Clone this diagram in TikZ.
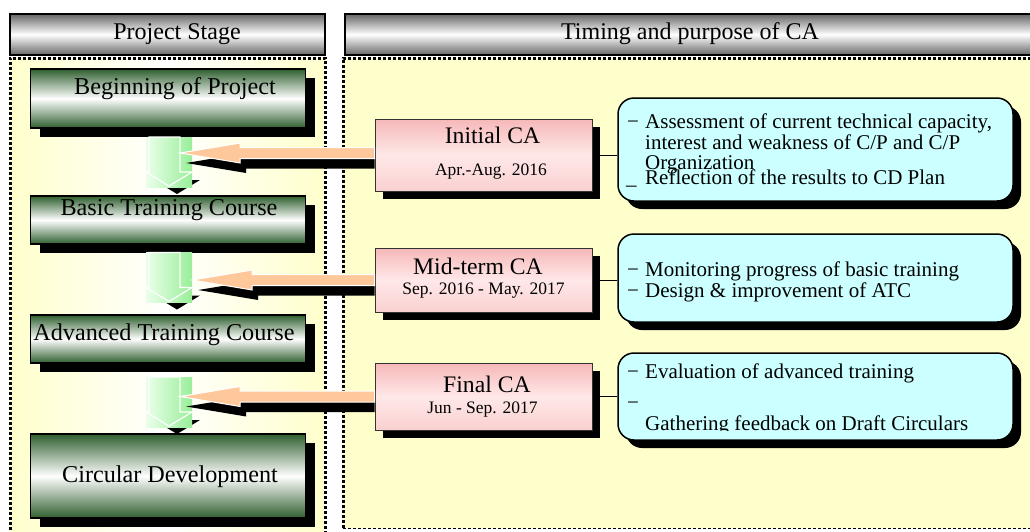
\documentclass[tikz,border=0pt]{standalone}
\usepackage{fontspec}
\setmainfont{Liberation Serif}
\usetikzlibrary{calc,shadows}
\definecolor{bgyel}{HTML}{FFFFCC}
\definecolor{dkgreen}{HTML}{2F5F2F}
\definecolor{pinktop}{HTML}{F6B8B8}
\definecolor{pinkmid}{HTML}{FFE8E8}
\definecolor{pinkbot}{HTML}{FAD0D0}
\definecolor{cyanbox}{HTML}{CCFFFF}
\definecolor{orangef}{HTML}{FFC89B}
\definecolor{gleft}{HTML}{EAFFEA}
\definecolor{gright}{HTML}{99EE99}
\newcommand\fs[1]{\fontsize{#1}{#1}\selectfont}
\newcommand\garrow[3]{%
  \fill[black,shift={(#2+8,#3+8)}] (-20,-25) -- (11,-25) -- (11,10) -- (23,10) -- (0,24) -- (-23,10) -- (-20,10) -- cycle;
  \node[gsq] (#1) at (#2,#3) {};
  \draw[warr,shift={(#2,#3)}] (-20,-25) -- (11,-25) -- (11,10) -- (23,10) -- (0,24) -- (-23,10) -- (-20,10) -- cycle;
}
\newcommand\oarrow[2]{%
  \fill[black] let \p1=(#1),\p2=(#2) in
    ({\x2+6pt},{\y1-10pt}) -- ({\x2+66pt},{\y1}) -- ({\x2+66pt},{\y1-4.5pt}) -- (\x1,{\y1-4.5pt}) -- (\x1,{\y1-15.5pt}) -- ({\x2+66pt},{\y1-15.5pt}) -- ({\x2+66pt},{\y1-20pt}) -- cycle;
  \draw[oarr] let \p1=(#1),\p2=(#2) in
    (\x2,\y1) -- ({\x2+60pt},{\y1+10pt}) -- ({\x2+60pt},{\y1+5.5pt}) -- (\x1,{\y1+5.5pt}) -- (\x1,{\y1-5.5pt}) -- ({\x2+60pt},{\y1-5.5pt}) -- ({\x2+60pt},{\y1-10pt}) -- cycle;
}
\begin{document}
\begin{tikzpicture}[x=1pt,y=-1pt,
  hdr/.style={draw=black,line width=1.2pt,top color=black!60,bottom color=black!60,middle color=white,minimum height=41pt,inner sep=0pt},
  gbox/.style={draw=black,line width=1.5pt,top color=dkgreen,bottom color=dkgreen,middle color=white,minimum width=275pt,inner sep=0pt,general shadow={fill=black,shadow xshift=9pt,shadow yshift=-9pt}},
  pbox/.style={draw=black!80,line width=1pt,top color=pinktop,bottom color=pinkbot,middle color=pinkmid,minimum width=217pt,inner sep=0pt,general shadow={fill=black,shadow xshift=8pt,shadow yshift=-8pt}},
  cbox/.style={draw=black,line width=1.5pt,fill=cyanbox,rounded corners=16pt,minimum width=395pt,inner sep=0pt,general shadow={fill=black,shadow xshift=8pt,shadow yshift=-8pt}},
  gsq/.style={left color=gleft,right color=gright,minimum width=46pt,minimum height=50pt,inner sep=0pt},
  htxt/.style={inner sep=0pt,font=\fs{24}},
  gtxt/.style={inner sep=0pt,font=\fs{24.2}},
  ptit/.style={inner sep=0pt,font=\fs{23.7}},
  pdate/.style={inner sep=0pt,font=\fs{17.5}},
  ctxt/.style={inner sep=0pt,font=\fs{21},anchor=base west},
  conn/.style={draw=black,line width=0.8pt},
  oarr/.style={fill=orangef,draw=white,line width=1pt},
  warr/.style={draw=white,line width=1.2pt},
]
\useasboundingbox (0,0) rectangle (1030,531);
\clip (0,0) rectangle (1030,531);
\fill[white] (0,0) rectangle (1030,531);
% panels
\path[left color=bgyel,right color=bgyel,middle color=white] (10,58) rectangle (325,540);
\fill[bgyel] (343,58) rectangle (1040,528);
\draw[line width=3pt,dash pattern=on 3pt off 2pt] (10,540) -- (10,58) -- (325,58) -- (325,540);
\draw[line width=3pt,dash pattern=on 3pt off 2pt] (343,528) -- (343,58) -- (1040,58);
\draw[line width=1pt,dash pattern=on 3pt off 2pt] (343,528) -- (1040,528);
% headers
\node[hdr,minimum width=315pt] (hl) at (167.5,34.5) {};
\node[hdr,minimum width=700pt] (hr) at (695,34.5) {};
\node[htxt] (thl) at (177,34) {Project Stage};
\node[htxt] (thr) at (690,34) {Timing and purpose of CA};
% green stage boxes
\node[gbox,minimum height=59pt] (b1) at (168,98.5) {};
\node[gbox,minimum height=48pt] (b2) at (168,220) {};
\node[gbox,minimum height=48pt] (b3) at (168,339) {};
\node[gbox,minimum height=84pt] (b4) at (168,476) {};
\node[gtxt] (tb1) at (175,89) {Beginning of Project};
\node[gtxt] (tb2) at (169,210) {Basic Training Course};
\node[gtxt] (tb3) at (164,335) {Advanced Training Course};
\node[gtxt] (tb4) at (170,477) {Circular Development};
% green down arrows
\garrow{g1}{169}{162}
\garrow{g2}{169}{277.5}
\garrow{g3}{169}{402}
% pink CA boxes
\node[pbox,minimum height=72pt] (p1) at (483.5,155) {};
\node[pbox,minimum height=64pt] (p2) at (483.5,280) {};
\node[pbox,minimum height=67pt] (p3) at (483.5,396.5) {};
\node[ptit] (tp1a) at (492.5,135) {Initial CA};
\node[pdate] (tp1b) at (491,172) {Apr.-Aug. 2016};
\node[ptit] (tp2a) at (478,266) {Mid-term CA};
\node[pdate] (tp2b) at (483.5,291) {Sep. 2016 - May. 2017};
\node[ptit] (tp3a) at (487,384) {Final CA};
\node[pdate] (tp3b) at (482.5,410) {Jun - Sep. 2017};
% orange arrows
\oarrow{$(p1.west)+(0,-2)$}{$(g1.east)+(-12,0)$}
\oarrow{p2.west}{g2.east}
\oarrow{p3.west}{$(g3.east)+(-12,0)$}
% cyan purpose boxes
\node[cbox,minimum height=103pt] (c1) at (815.5,149.5) {};
\node[cbox,minimum height=88pt] (c2) at (815.5,278) {};
\node[cbox,minimum height=87pt] (c3) at (815.5,396.5) {};
\draw[conn] (p1.east) -- (p1.east -| c1.west);
\draw[conn] (p2.east) -- (p2.east -| c2.west);
\draw[conn] (p3.east) -- (p3.east -| c3.west);
% cyan texts
\node[ctxt] (d11) at (627,128) {−};
\node[ctxt] (t11) at (645,128) {Assessment of current technical capacity,};
\node[ctxt] (t12) at (645,149) {interest and weakness of C/P and C/P};
\node[ctxt] (t13) at (645,169) {Organization};
\node[ctxt] (d14) at (626,184) {\_};
\node[ctxt] (t14) at (645,184) {Reflection of the results to CD Plan};
\node[ctxt] (d21) at (627,276) {−};
\node[ctxt] (t21) at (645,276) {Monitoring progress of basic training};
\node[ctxt] (d22) at (627,297) {−};
\node[ctxt] (t22) at (645,297) {Design \& improvement of ATC};
\node[ctxt] (d31) at (627,378) {−};
\node[ctxt] (t31) at (645,378) {Evaluation of advanced training};
\node[ctxt] (d32) at (627,409) {−};
\begin{scope}
\clip (600,340) rectangle (1020,430);
\node[ctxt] (t32) at (645,430) {Gathering feedback on Draft Circulars};
\end{scope}
\end{tikzpicture}
\end{document}
